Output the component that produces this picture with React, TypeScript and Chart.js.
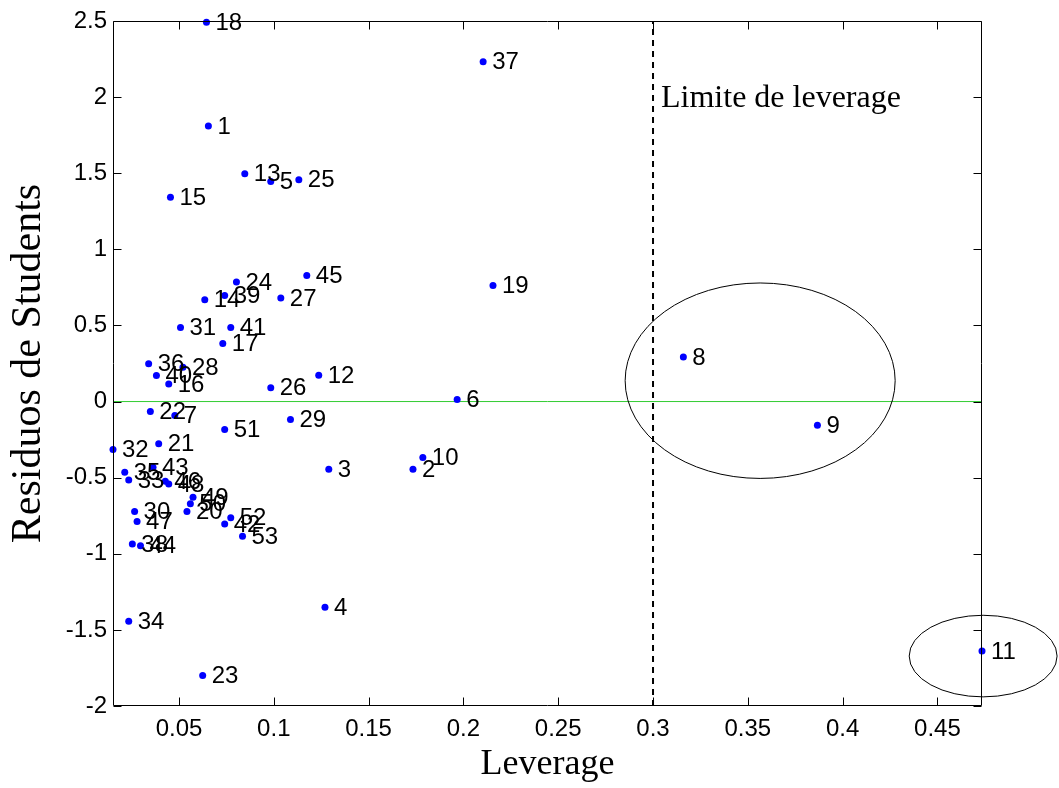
import React, { useEffect, useRef } from 'react';
import { Chart, registerables } from 'chart.js';

Chart.register(...registerables);

const pointIds = [
  '1', '2', '3', '4', '5', '6', '7', '8', '9', '10',
  '11', '12', '13', '14', '15', '16', '17', '18', '19', '20',
  '21', '22', '23', '24', '25', '26', '27', '28', '29', '30',
  '31', '32', '33', '34', '35', '36', '37', '38', '39', '40',
  '41', '42', '43', '44', '45', '46', '47', '48', '49', '50',
  '51', '52', '53',
];

const leverage = [
  0.0655, 0.1734, 0.129, 0.127, 0.0984, 0.1967, 0.0478, 0.316, 0.3867, 0.1786,
  0.4735, 0.1237, 0.0847, 0.0636, 0.0455, 0.0446, 0.0731, 0.0645, 0.2156, 0.0542,
  0.0393, 0.0349, 0.0625, 0.0803, 0.1132, 0.0984, 0.1037, 0.0521, 0.1088, 0.0266,
  0.0508, 0.0152, 0.0235, 0.0235, 0.0214, 0.034, 0.2104, 0.0254, 0.0741, 0.0381,
  0.0773, 0.0741, 0.0363, 0.0297, 0.1174, 0.0428, 0.0279, 0.0446, 0.0574, 0.056,
  0.0741, 0.0773, 0.0835,
];

const residuals = [
  1.811, -0.445, -0.445, -1.352, 1.445, 0.014, -0.092, 0.293, -0.156, -0.367,
  -1.639, 0.173, 1.496, 0.668, 1.342, 0.116, 0.381, 2.492, 0.763, -0.723,
  -0.278, -0.066, -1.799, 0.786, 1.457, 0.09, 0.681, 0.226, -0.118, -0.723,
  0.486, -0.315, -0.515, -1.444, -0.464, 0.248, 2.232, -0.935, 0.696, 0.171,
  0.486, -0.804, -0.432, -0.948, 0.828, -0.524, -0.788, -0.541, -0.629, -0.672,
  -0.184, -0.764, -0.885,
];

const xTickValues = [0.05, 0.1, 0.15, 0.2, 0.25, 0.3, 0.35, 0.4, 0.45];
const yTickValues = [-2, -1.5, -1, -0.5, 0, 0.5, 1, 1.5, 2, 2.5];
const xMin = 0.0152;
const xMax = 0.4735;
const yMin = -2;
const yMax = 2.5;

const leverageLimit = 0.3;
const limitLabel = 'Limite de leverage';
const limitLabelY = 1.935;

const ellipseCx = [0.3565, 0.4741];
const ellipseCy = [0.137, -1.672];
const ellipseRx = [0.0712, 0.039];
const ellipseRy = [0.642, 0.268];

const xTitle = 'Leverage';
const yTitle = 'Residuos de Students';

const SANS = '"Liberation Sans", Arial, sans-serif';
const SERIF = '"Liberation Serif", "Times New Roman", serif';

const annotationsPlugin = {
  id: 'annotations',
  afterDatasetsDraw(chart: any) {
    const ctx = chart.ctx;
    const xs = chart.scales.x;
    const ys = chart.scales.y;
    const meta = chart.getDatasetMeta(0);
    ctx.save();
    ctx.fillStyle = '#000';
    ctx.font = '24px ' + SANS;
    ctx.textAlign = 'left';
    ctx.textBaseline = 'middle';
    meta.data.forEach((el: any, i: number) => {
      ctx.fillText(pointIds[i], el.x + 9, el.y + 1);
    });
    ctx.font = '32px ' + SERIF;
    ctx.textBaseline = 'alphabetic';
    ctx.fillText(limitLabel, xs.getPixelForValue(leverageLimit) + 8, ys.getPixelForValue(limitLabelY));
    ctx.strokeStyle = '#000';
    ctx.lineWidth = 1;
    for (let i = 0; i < ellipseCx.length; i++) {
      const cx = xs.getPixelForValue(ellipseCx[i]);
      const cy = ys.getPixelForValue(ellipseCy[i]);
      const rx = Math.abs(xs.getPixelForValue(ellipseCx[i] + ellipseRx[i]) - cx);
      const ry = Math.abs(ys.getPixelForValue(ellipseCy[i] + ellipseRy[i]) - cy);
      ctx.beginPath();
      ctx.ellipse(cx, cy, rx, ry, 0, 0, Math.PI * 2);
      ctx.stroke();
    }
    ctx.restore();
  },
  afterDraw(chart: any) {
    const ctx = chart.ctx;
    const a = chart.chartArea;
    const xs = chart.scales.x;
    const ys = chart.scales.y;
    const L = Math.round(a.left) + 0.5;
    const R = Math.round(a.right) - 0.5;
    const T = Math.round(a.top) + 0.5;
    const B = Math.round(a.bottom) - 0.5;
    ctx.save();
    ctx.strokeStyle = '#000';
    ctx.lineWidth = 1;
    ctx.beginPath();
    ctx.rect(L, T, R - L, B - T);
    ctx.stroke();
    const tl = 8;
    ctx.beginPath();
    xTickValues.forEach((v) => {
      const p = Math.round(xs.getPixelForValue(v)) + 0.5;
      ctx.moveTo(p, B);
      ctx.lineTo(p, B - tl);
      ctx.moveTo(p, T);
      ctx.lineTo(p, T + tl);
    });
    yTickValues.forEach((v) => {
      const p = Math.round(ys.getPixelForValue(v)) + 0.5;
      ctx.moveTo(L, p);
      ctx.lineTo(L + tl, p);
      ctx.moveTo(R, p);
      ctx.lineTo(R - tl, p);
    });
    ctx.stroke();
    ctx.restore();
  },
};

export default function App() {
  const canvasRef = useRef<HTMLCanvasElement | null>(null);

  useEffect(() => {
    document.body.style.margin = '0';
    const canvas = canvasRef.current;
    if (!canvas) return;
    const points = leverage.map((x, i) => ({ x, y: residuals[i] }));
    const chart = new Chart(canvas, {
      type: 'scatter',
      data: {
        datasets: [
          {
            label: 'points',
            data: points,
            backgroundColor: '#0000ff',
            borderColor: '#0000ff',
            borderWidth: 0,
            pointRadius: 3.5,
            clip: false,
          } as any,
          {
            label: 'limit',
            data: [
              { x: leverageLimit, y: yMin },
              { x: leverageLimit, y: yMax },
            ],
            showLine: true,
            borderColor: '#000',
            borderWidth: 2,
            borderDash: [6, 5],
            pointRadius: 0,
          } as any,
          {
            label: 'zero',
            data: [
              { x: xMin, y: 0 },
              { x: xMax, y: 0 },
            ],
            showLine: true,
            borderColor: '#3c3',
            borderWidth: 1,
            pointRadius: 0,
          } as any,
        ],
      },
      options: {
        responsive: false,
        devicePixelRatio: 1,
        animation: false,
        events: [],
        layout: { padding: { top: 21, right: 77, left: 0, bottom: 0 } },
        plugins: { legend: { display: false }, tooltip: { enabled: false } },
        scales: {
          x: {
            type: 'linear',
            min: xMin,
            max: xMax,
            grid: { display: false, drawTicks: false },
            border: { display: false },
            afterBuildTicks: (s: any) => {
              s.ticks = xTickValues.map((v) => ({ value: v }));
            },
            afterFit: (s: any) => {
              s.height = 82;
            },
            ticks: {
              autoSkip: false,
              maxRotation: 0,
              padding: 9,
              color: '#000',
              font: { family: SANS, size: 24 },
              callback: (v: any) => String(v),
            },
            title: {
              display: true,
              text: xTitle,
              color: '#000',
              font: { family: SERIF, size: 36 },
              padding: { top: 0, bottom: 2 },
            },
          },
          y: {
            type: 'linear',
            min: yMin,
            max: yMax,
            grid: { display: false, drawTicks: false },
            border: { display: false },
            afterBuildTicks: (s: any) => {
              s.ticks = yTickValues.map((v) => ({ value: v }));
            },
            afterFit: (s: any) => {
              s.width = 113;
            },
            ticks: {
              autoSkip: false,
              padding: 6,
              color: '#000',
              font: { family: SANS, size: 24 },
              callback: (v: any) => String(v),
            },
            title: {
              display: true,
              text: yTitle,
              color: '#000',
              font: { family: SERIF, size: 42 },
              padding: { top: 4, bottom: 0 },
            },
          },
        },
      } as any,
      plugins: [annotationsPlugin],
    });
    return () => chart.destroy();
  }, []);

  return (
    <div style={{ position: 'absolute', left: 0, top: 0, width: 1059, height: 788, background: '#fff' }}>
      <canvas ref={canvasRef} width={1059} height={788} style={{ display: 'block', width: 1059, height: 788 }} />
    </div>
  );
}
